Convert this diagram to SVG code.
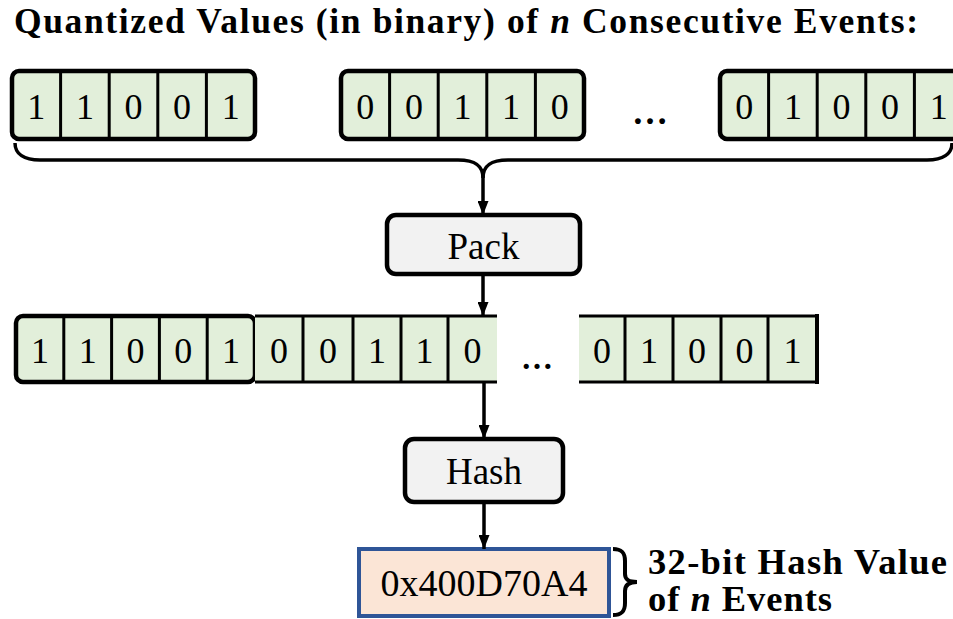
<svg xmlns="http://www.w3.org/2000/svg" width="953" height="619" viewBox="0 0 953 619">
  <style>
    .bit { fill: #E2EFDA; stroke: none; }
    .div { stroke: #000; stroke-width: 3; fill: none; }
    .frame { fill: none; stroke: #000; stroke-width: 4.5; }
    .edge { stroke: #000; stroke-width: 3.5; fill: none; }
    .d { font-family: "Liberation Serif", "Times New Roman", serif; font-size: 36px; text-anchor: middle; fill: #000; }
    .op { fill: #F2F2F2; stroke: #000; stroke-width: 4.5; }
    .lbl { font-family: "Liberation Serif", "Times New Roman", serif; font-size: 37px; text-anchor: middle; fill: #000; }
    .bold { font-family: "Liberation Serif", "Times New Roman", serif; font-weight: bold; fill: #000; }
    .dots { font-family: "Liberation Serif", serif; font-weight: bold; text-anchor: middle; fill: #000; }
  </style>
  <defs>
    <marker id="arrow" viewBox="0 0 14 11" refX="14" refY="5.5" markerWidth="14" markerHeight="11" markerUnits="userSpaceOnUse" orient="auto">
      <path d="M0,0 L14,5.5 L0,11 Z" fill="#000"/>
    </marker>
  </defs>

  <!-- heading -->
  <text id="title" class="bold" x="14" y="33" font-size="35.5" textLength="904" lengthAdjust="spacing">Quantized Values (in binary) of <tspan font-style="italic">n</tspan> Consecutive Events:</text>

  <!-- event 1 -->
  <g id="event1">
    <rect class="bit" x="12" y="71" width="243" height="68" rx="7"/>
    <path class="div" d="M60.6,71V139M109.2,71V139M157.8,71V139M206.4,71V139"/>
    <rect class="frame" x="12" y="71" width="243" height="68" rx="7"/>
    <text class="d" x="36.3" y="119">1</text>
    <text class="d" x="84.9" y="119">1</text>
    <text class="d" x="133.5" y="119">0</text>
    <text class="d" x="182.1" y="119">0</text>
    <text class="d" x="230.7" y="119">1</text>
  </g>

  <!-- event 2 -->
  <g id="event2">
    <rect class="bit" x="341" y="71" width="243" height="68" rx="7"/>
    <path class="div" d="M389.6,71V139M438.2,71V139M486.8,71V139M535.4,71V139"/>
    <rect class="frame" x="341" y="71" width="243" height="68" rx="7"/>
    <text class="d" x="365.3" y="119">0</text>
    <text class="d" x="413.9" y="119">0</text>
    <text class="d" x="462.5" y="119">1</text>
    <text class="d" x="511.1" y="119">1</text>
    <text class="d" x="559.7" y="119">0</text>
  </g>

  <text id="gap1" class="dots" x="650" y="124" font-size="36">…</text>

  <!-- event n -->
  <g id="eventN">
    <rect class="bit" x="720" y="71" width="243" height="68" rx="7"/>
    <path class="div" d="M768.6,71V139M817.2,71V139M865.8,71V139M914.4,71V139"/>
    <rect class="frame" x="720" y="71" width="243" height="68" rx="7"/>
    <text class="d" x="744.3" y="119">0</text>
    <text class="d" x="792.9" y="119">1</text>
    <text class="d" x="841.5" y="119">0</text>
    <text class="d" x="890.1" y="119">0</text>
    <text class="d" x="938.7" y="119">1</text>
  </g>

  <!-- Pack operation -->
  <g id="pack">
    <rect class="op" x="387" y="215" width="193" height="59" rx="9"/>
    <text class="lbl" x="483.5" y="259">Pack</text>
  </g>

  <!-- packed bit string -->
  <g id="packed">
    <rect class="bit" x="16" y="316" width="239" height="66" rx="7"/>
    <path class="div" d="M63.8,316V382M111.6,316V382M159.4,316V382M207.2,316V382"/>
    <rect class="frame" x="16" y="316" width="239" height="66" rx="7"/>
    <text class="d" x="39.9" y="363">1</text>
    <text class="d" x="87.7" y="363">1</text>
    <text class="d" x="135.5" y="363">0</text>
    <text class="d" x="183.3" y="363">0</text>
    <text class="d" x="231.1" y="363">1</text>

    <rect class="bit" x="255" y="316" width="242" height="66"/>
    <path class="div" d="M255,316H497M255,382H497M303,316V382M353,316V382M401,316V382M448,316V382"/>
    <text class="d" x="279" y="363">0</text>
    <text class="d" x="328" y="363">0</text>
    <text class="d" x="377" y="363">1</text>
    <text class="d" x="424.5" y="363">1</text>
    <text class="d" x="472.5" y="363">0</text>

    <text class="dots" x="537" y="369" font-size="32">…</text>

    <rect class="bit" x="579" y="316" width="238" height="66"/>
    <path class="div" d="M579,316H817M579,382H817M625,316V382M673,316V382M721,316V382M768,316V382"/>
    <path d="M817,314V384" stroke="#000" stroke-width="4" fill="none"/>
    <text class="d" x="602" y="363">0</text>
    <text class="d" x="649" y="363">1</text>
    <text class="d" x="697" y="363">0</text>
    <text class="d" x="744.5" y="363">0</text>
    <text class="d" x="792.5" y="363">1</text>
  </g>

  <!-- Hash operation -->
  <g id="hash">
    <rect class="op" x="405" y="439" width="158" height="63" rx="9"/>
    <text class="lbl" x="484" y="484">Hash</text>
  </g>

  <!-- resulting hash value -->
  <g id="hashValue">
    <rect x="359" y="549" width="250" height="67" fill="#FBE5D6" stroke="#2F5597" stroke-width="4"/>
    <text class="lbl" x="484" y="596" textLength="207" lengthAdjust="spacingAndGlyphs">0x400D70A4</text>
    <path d="M613,549 C622,549 625,553 625,561 V574 C625,580 629,582 637,582 C629,582 625,585 625,591 V603 C625,611 622,615 613,615" fill="none" stroke="#000" stroke-width="4"/>
    <text class="bold" x="648" y="574" font-size="36.5" textLength="299" lengthAdjust="spacing">32-bit Hash Value</text>
    <text class="bold" x="648" y="611" font-size="36.5" textLength="184" lengthAdjust="spacing">of <tspan font-style="italic">n</tspan> Events</text>
  </g>

  <!-- connectors -->
  <g id="connectors">
    <path class="edge" d="M15,143 C15,154 24,160 40,160 H458 C476,160 483,166 483,178 C483,166 490,160 508,160 H927 C943,160 952,154 952,143"/>
    <path class="edge" d="M483,176 V215" marker-end="url(#arrow)"/>
    <path class="edge" d="M483,274 V316" marker-end="url(#arrow)"/>
    <path class="edge" d="M484,382 V439" marker-end="url(#arrow)"/>
    <path class="edge" d="M484,502 V549" marker-end="url(#arrow)"/>
  </g>
</svg>
